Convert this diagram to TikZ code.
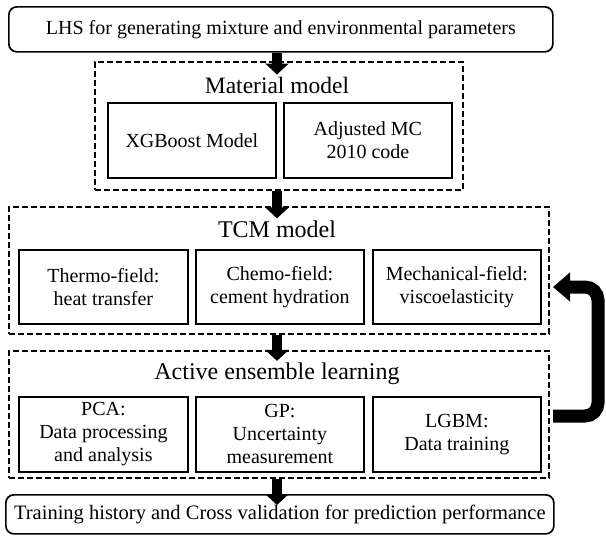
\documentclass[tikz,border=0pt]{standalone}
\usepackage{fontspec}
\setmainfont{Liberation Serif}
\usetikzlibrary{arrows.meta,positioning}
\tikzset{
  endbox/.style={draw, rounded corners=8pt, line width=1.7pt, anchor=north west, inner sep=0pt, font=\fontsize{20}{23}\selectfont},
  groupbox/.style={draw, line width=1.6pt, dash pattern=on 6pt off 3pt, anchor=north west, inner sep=0pt},
  grouptitle/.style={font=\fontsize{24}{27}\selectfont, inner sep=2pt},
  subbox/.style={draw, line width=1.8pt, anchor=north west, align=center, inner sep=0pt, font=\fontsize{20}{23}\selectfont},
  bigarrow/.style={line width=10pt, -{Triangle[width=23pt,length=11pt]}},
  backarrow/.style={line width=13pt, rounded corners=13pt, -{Triangle[width=28pt,length=17pt]}},
}
\begin{document}
\begin{tikzpicture}[x=1pt,y=-1pt]
  \useasboundingbox (0,0) rectangle (606,536);

  % input and output
  \node[endbox, minimum width=544pt, minimum height=45pt] (lhs) at (8,6)
    {LHS for generating mixture and environmental parameters};
  \node[endbox, minimum width=548pt, minimum height=39pt, font=\fontsize{20.5}{23}\selectfont] (hist) at (5,494)
    {Training history and Cross validation for prediction performance};

  % material model
  \node[groupbox, minimum width=368pt, minimum height=128pt] (matgrp) at (94,61) {};
  \node[grouptitle, font=\fontsize{23.5}{27}\selectfont] (mattitle) at (277,85) {Material model};
  \node[subbox, minimum width=168pt, minimum height=75pt] (xgb) at (107,102) {XGBoost Model};
  \node[subbox, minimum width=168pt, minimum height=75pt] (mc) at (283,102) {Adjusted MC\\2010 code};

  % TCM model
  \node[groupbox, minimum width=540pt, minimum height=127pt] (tcmgrp) at (8,206) {};
  \node[grouptitle] (tcmtitle) at (277,229) {TCM model};
  \node[subbox, minimum width=169pt, minimum height=74pt] (thermo) at (18,249) {Thermo-field:\\heat transfer};
  \node[subbox, minimum width=168pt, minimum height=74pt] (chemo) at (195,249) {Chemo-field:\\cement hydration};
  \node[subbox, minimum width=168pt, minimum height=74pt] (mech) at (372,249) {Mechanical-field:\\viscoelasticity};

  % active ensemble learning
  \node[groupbox, minimum width=540pt, minimum height=127pt] (aelgrp) at (8,350) {};
  \node[grouptitle] (aeltitle) at (277,374) {Active ensemble learning};
  \node[subbox, minimum width=169pt, minimum height=75pt] (pca) at (18,396) {PCA:\\Data processing\\and analysis};
  \node[subbox, minimum width=168pt, minimum height=75pt] (gp) at (195,396) {GP:\\Uncertainty\\measurement};
  \node[subbox, minimum width=168pt, minimum height=75pt] (lgbm) at (372,396) {LGBM:\\Data training};

  % flow
  \draw[bigarrow] (lhs.south -| mattitle) -- (mattitle.north);
  \draw[bigarrow] (matgrp.south -| tcmtitle) -- (tcmtitle.north);
  \draw[bigarrow] (tcmgrp.south -| aeltitle) -- (aeltitle.north);
  \draw[bigarrow] (aelgrp.south -| aeltitle) -- ([yshift=-11pt]hist.north -| aeltitle);

  % feedback loop
  \coordinate (fbout) at (553,416);
  \coordinate (fbin) at (553,287);
  \coordinate (fbright) at (598,350);
  \draw[backarrow] (fbout) -- (fbout -| fbright) -- (fbin -| fbright) -- (fbin);
\end{tikzpicture}
\end{document}
